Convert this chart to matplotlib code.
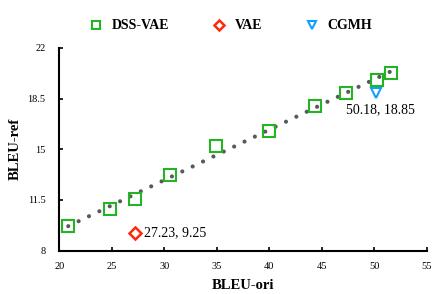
import numpy as np
import matplotlib
matplotlib.use("Agg")
import matplotlib.pyplot as plt

# Data
dss_x = [20.85, 24.83, 27.23, 30.57, 34.92, 39.94, 44.35, 47.3, 50.26, 51.62]
dss_y = [9.71, 10.88, 11.55, 13.21, 15.23, 16.27, 17.99, 18.86, 19.81, 20.24]
vae_x = [27.23]
vae_y = [9.25]
cgmh_x = [50.18]
cgmh_y = [18.85]
xticks = [20, 25, 30, 35, 40, 45, 50, 55]
yticks = [8, 11.5, 15, 18.5, 22]

plt.rcParams['font.family'] = ['Liberation Serif', 'DejaVu Serif']

fig = plt.figure(figsize=(4.37, 2.94), dpi=100)
ax = fig.add_axes([0.1357, 0.1473, 0.8413, 0.69])

# trendline (linear fit) drawn as round dots
coef = np.polyfit(dss_x, dss_y, 1)
tx = np.array([min(dss_x), max(dss_x)])
ax.plot(tx, np.polyval(coef, tx), color='#595959', lw=3.0,
        linestyle=(0, (0.01, 2.75)), dash_capstyle='round', zorder=2)

ax.plot(dss_x, dss_y, linestyle='none', marker='s', markersize=8.0,
        markerfacecolor='none', markeredgecolor='#22b422', markeredgewidth=1.5,
        label='DSS-VAE', zorder=3)
ax.plot(vae_x, vae_y, linestyle='none', marker='D', markersize=5.8,
        markerfacecolor='none', markeredgecolor='#ff2a0a', markeredgewidth=1.8,
        label='VAE', zorder=3)
ax.plot(cgmh_x, cgmh_y, linestyle='none', marker='v', markersize=7.5,
        markerfacecolor='none', markeredgecolor='#12a0ff', markeredgewidth=1.5,
        label='CGMH', zorder=3)

ax.annotate(f"{vae_x[0]:.2f}, {vae_y[0]:.2f}", (vae_x[0], vae_y[0]),
            xytext=(6.5, 0), textcoords='offset points', ha='left', va='center',
            fontsize=10)
ax.annotate(f"{cgmh_x[0]:.2f}, {cgmh_y[0]:.2f}", (cgmh_x[0], cgmh_y[0]),
            xytext=(-22, -11.5), textcoords='offset points', ha='left', va='center',
            fontsize=10)

ax.set_xlim(20, 55)
ax.set_ylim(8, 22)
ax.set_xticks(xticks)
ax.set_xticklabels([str(t) for t in xticks])
ax.set_yticks(yticks)
ax.set_yticklabels([f"{t:g}" for t in yticks])
ax.tick_params(direction='in', length=3, width=1.2, labelsize=7.5, pad=8)
ax.tick_params(axis='y', pad=10)
for s in ['top', 'right']:
    ax.spines[s].set_visible(False)
for s in ['left', 'bottom']:
    ax.spines[s].set_linewidth(1.5)

ax.set_xlabel('BLEU-ori', fontsize=10.5, fontweight='bold', labelpad=6)
ax.set_ylabel('BLEU-ref', fontsize=10.5, fontweight='bold', labelpad=4)

leg = fig.legend(loc='center', bbox_to_anchor=(0.528, 0.912), ncol=3, frameon=False,
                 prop={'size': 10, 'weight': 'bold'}, handlelength=1.0,
                 handletextpad=0.6, columnspacing=3.1, markerscale=0.8)

fig.savefig('out.png', dpi=100)
